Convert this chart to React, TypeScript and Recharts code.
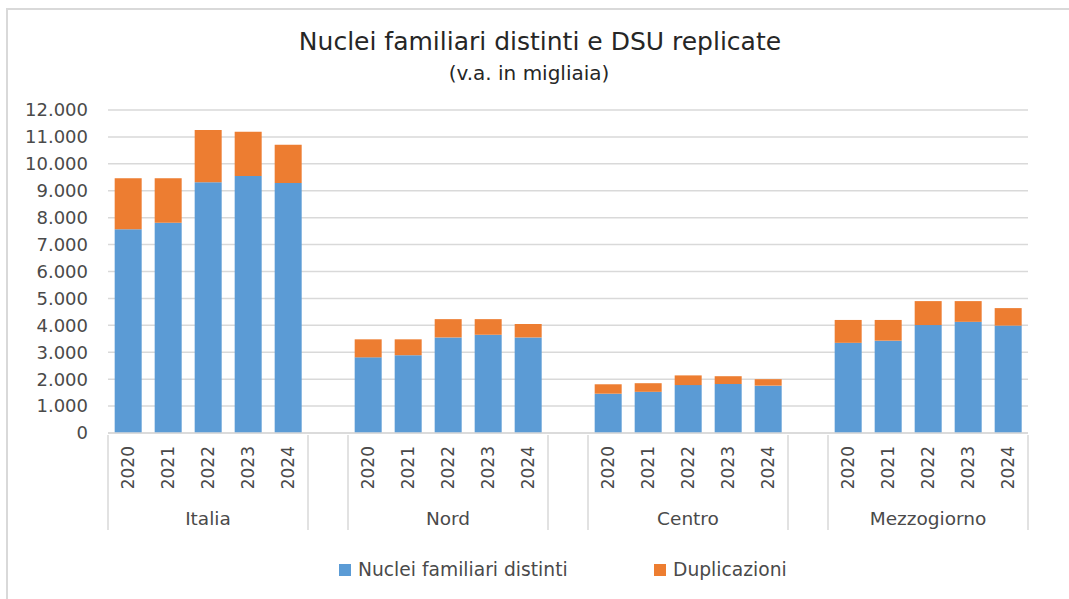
import { BarChart, Bar, XAxis, YAxis, CartesianGrid } from 'recharts';

const groups = ['Italia', 'Nord', 'Centro', 'Mezzogiorno'];
const years = ['2020', '2021', '2022', '2023', '2024'];

// valori in migliaia
const nucleiItalia = [7570, 7810, 9320, 9550, 9290];
const dupItalia = [1890, 1650, 1940, 1640, 1420];
const nucleiNord = [2810, 2890, 3550, 3650, 3550];
const dupNord = [670, 590, 680, 580, 500];
const nucleiCentro = [1460, 1530, 1780, 1820, 1760];
const dupCentro = [350, 320, 360, 290, 240];
const nucleiMezzogiorno = [3350, 3430, 4010, 4130, 3990];
const dupMezzogiorno = [850, 770, 890, 770, 650];

const yTicks = [0, 1000, 2000, 3000, 4000, 5000, 6000, 7000, 8000, 9000, 10000, 11000, 12000];

const nucleiByGroup = [nucleiItalia, nucleiNord, nucleiCentro, nucleiMezzogiorno];
const dupByGroup = [dupItalia, dupNord, dupCentro, dupMezzogiorno];

const BLUE = '#5B9BD5';
const ORANGE = '#ED7D31';
const GRID = '#D9D9D9';
const TEXT = '#4A4A4A';
const FONT = '"DejaVu Sans", sans-serif';

const WIDTH = 1069;
const HEIGHT = 599;
const MARGIN = { top: 110, right: 41, bottom: 71, left: 0 };
const Y_AXIS_W = 108;
const X_AXIS_H = 95;

type Row = {
    key: string;
    group: string;
    year: string;
    yearIdx: number;
    first: boolean;
    last: boolean;
    nuclei?: number;
    dup?: number;
};

const rows: Row[] = [];
groups.forEach((g, gi) => {
    years.forEach((yr, yi) => {
        rows.push({
            key: `${g}-${yr}`,
            group: g,
            year: yr,
            yearIdx: yi,
            first: yi === 0,
            last: gi === groups.length - 1 && yi === years.length - 1,
            nuclei: nucleiByGroup[gi][yi],
            dup: dupByGroup[gi][yi],
        });
    });
    if (gi < groups.length - 1) {
        rows.push({ key: `gap-${gi}`, group: '', year: '', yearIdx: -1, first: true, last: false });
    }
});
const rowByKey: Record<string, Row> = {};
rows.forEach((r) => (rowByKey[r.key] = r));

const plotWidth = WIDTH - MARGIN.left - MARGIN.right - Y_AXIS_W;
const halfBand = plotWidth / rows.length / 2;

const fmt = (v: number) => v.toLocaleString('it-IT');

function CategoryTick(props: any) {
    const { x, y, payload } = props;
    const row = rowByKey[payload.value];
    if (!row) return null;
    return (
        <g>
            {row.first && (
                <line x1={x - halfBand} x2={x - halfBand} y1={y} y2={y + X_AXIS_H} stroke={GRID} strokeWidth={1.5} />
            )}
            {row.last && (
                <line x1={x + halfBand} x2={x + halfBand} y1={y} y2={y + X_AXIS_H} stroke={GRID} strokeWidth={1.5} />
            )}
            {row.year && (
                <text
                    x={x}
                    y={y + 11}
                    transform={`rotate(-90, ${x}, ${y + 11})`}
                    textAnchor="end"
                    dy="0.36em"
                    fontSize={17}
                    fontFamily={FONT}
                    fill={TEXT}
                >
                    {row.year}
                </text>
            )}
            {row.yearIdx === 2 && (
                <text x={x} y={y + 90} textAnchor="middle" fontSize={18.5} fontFamily={FONT} fill={TEXT}>
                    {row.group}
                </text>
            )}
        </g>
    );
}

export default function App() {
    return (
        <div style={{ position: 'absolute', left: 0, top: 0, width: WIDTH, height: HEIGHT, overflow: 'hidden', background: '#fff' }}>
            <div
                style={{
                    position: 'absolute',
                    left: 6,
                    top: 8,
                    width: WIDTH,
                    height: HEIGHT,
                    borderLeft: `2px solid ${GRID}`,
                    borderTop: `2px solid ${GRID}`,
                }}
            />
            <div style={{ position: 'absolute', left: 0, top: 0 }}>
                <BarChart
                    width={WIDTH}
                    height={HEIGHT}
                    data={rows}
                    margin={MARGIN}
                    barCategoryGap="16.7%"
                >
                    <CartesianGrid vertical={false} stroke={GRID} strokeWidth={1.5} />
                    <XAxis
                        dataKey="key"
                        height={X_AXIS_H}
                        interval={0}
                        tickLine={false}
                        tickSize={0}
                        axisLine={{ stroke: GRID, strokeWidth: 1.5 }}
                        tick={<CategoryTick />}
                    />
                    <YAxis
                        width={Y_AXIS_W}
                        domain={[0, 12000]}
                        ticks={yTicks}
                        interval={0}
                        axisLine={false}
                        tickLine={false}
                        tickSize={0}
                        tickMargin={20}
                        tickFormatter={fmt}
                        tick={{ fill: TEXT, fontSize: 18, fontFamily: FONT }}
                    />
                    <Bar dataKey="nuclei" name="Nuclei familiari distinti" stackId="a" fill={BLUE} isAnimationActive={false} />
                    <Bar dataKey="dup" name="Duplicazioni" stackId="a" fill={ORANGE} isAnimationActive={false} />
                </BarChart>
            </div>
            <svg
                width={WIDTH}
                height={HEIGHT}
                style={{ position: 'absolute', left: 0, top: 0, pointerEvents: 'none' }}
                fontFamily={FONT}
            >
                <text x={540} y={50} textAnchor="middle" fontSize={25} fill="#262626">
                    Nuclei familiari distinti e DSU replicate
                </text>
                <text x={529} y={80} textAnchor="middle" fontSize={20} fill="#262626">
                    (v.a. in migliaia)
                </text>
                <rect x={339} y={564} width={12} height={12} fill={BLUE} />
                <text x={358} y={576} fontSize={18.7} fill={TEXT}>
                    Nuclei familiari distinti
                </text>
                <rect x={654} y={564} width={12} height={12} fill={ORANGE} />
                <text x={673} y={576} fontSize={18.7} fill={TEXT}>
                    Duplicazioni
                </text>
            </svg>
        </div>
    );
}
